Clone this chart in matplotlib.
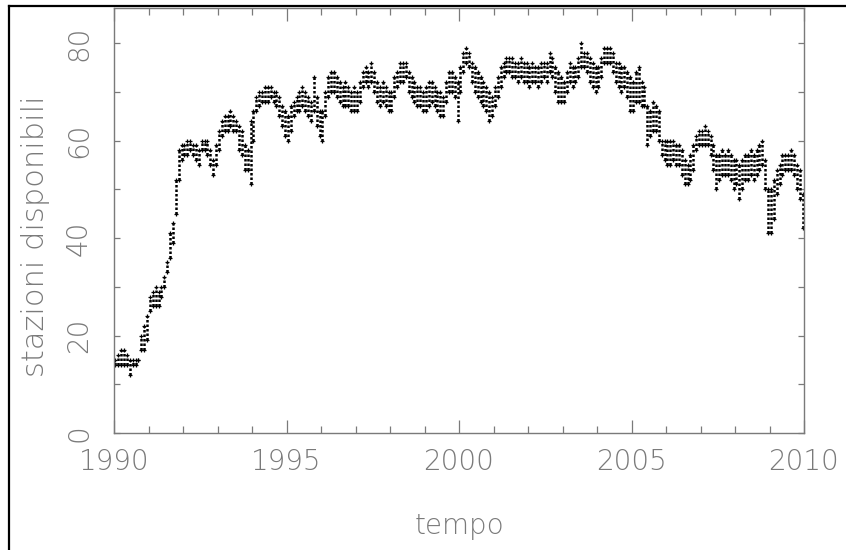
import matplotlib
matplotlib.use("Agg")
import matplotlib.pyplot as plt
from matplotlib.lines import Line2D
from matplotlib.ticker import MultipleLocator
import numpy as np

# monthly range (lowest / highest daily count) of available stations, Jan 1990 .. Dec 2009
low = [
    14, 14, 14, 14, 14, 12, 14, 14, 15, 17, 17, 19,   # 1990
    25, 26, 26, 26, 28, 30, 33, 36, 39, 45, 52, 56,   # 1991
    57, 57, 58, 57, 56, 55, 58, 58, 57, 55, 53, 55,   # 1992
    58, 61, 62, 62, 63, 62, 62, 58, 57, 54, 54, 51,   # 1993
    60, 66, 67, 68, 68, 68, 69, 68, 67, 65, 63, 61,   # 1994
    60, 62, 65, 66, 66, 67, 66, 65, 64, 66, 63, 61,   # 1995
    60, 65, 69, 70, 70, 69, 68, 67, 67, 67, 66, 66,   # 1996
    66, 68, 71, 72, 71, 72, 70, 68, 67, 68, 67, 66,   # 1997
    66, 69, 71, 72, 72, 73, 70, 69, 68, 67, 67, 66,   # 1998
    66, 67, 68, 67, 66, 65, 65, 68, 70, 70, 69, 64,   # 1999
    70, 74, 76, 75, 72, 70, 69, 68, 67, 66, 64, 65,   # 2000
    67, 69, 71, 73, 74, 74, 73, 73, 72, 73, 72, 72,   # 2001
    71, 72, 72, 71, 72, 73, 72, 74, 73, 70, 68, 68,   # 2002
    68, 70, 72, 71, 72, 73, 75, 75, 74, 72, 71, 70,   # 2003
    71, 73, 76, 76, 76, 74, 72, 71, 70, 71, 69, 66,   # 2004
    66, 68, 68, 67, 67, 59, 61, 62, 62, 60, 57, 56,   # 2005
    55, 55, 56, 55, 55, 53, 51, 51, 52, 54, 58, 59,   # 2006
    59, 59, 59, 57, 54, 50, 52, 53, 53, 53, 52, 50,   # 2007
    51, 48, 50, 52, 52, 53, 52, 53, 54, 55, 50, 41,   # 2008
    41, 44, 49, 51, 53, 54, 54, 54, 53, 50, 48, 42,   # 2009
]
high = [
    15, 16, 17, 17, 16, 15, 15, 15, 15, 20, 22, 24,
    28, 29, 30, 29, 30, 32, 35, 41, 43, 52, 58, 59,
    59, 60, 60, 59, 59, 58, 60, 60, 60, 58, 56, 59,
    62, 64, 65, 65, 66, 65, 64, 63, 62, 59, 58, 64,
    66, 69, 70, 70, 71, 71, 71, 70, 70, 69, 67, 66,
    65, 67, 68, 69, 70, 71, 70, 69, 68, 73, 69, 66,
    66, 70, 73, 74, 74, 73, 72, 71, 72, 71, 70, 71,
    70, 72, 74, 75, 74, 76, 74, 72, 71, 72, 71, 70,
    70, 73, 74, 76, 76, 76, 74, 73, 72, 71, 71, 70,
    71, 72, 72, 71, 70, 70, 69, 72, 74, 74, 73, 72,
    75, 78, 79, 78, 76, 75, 74, 73, 72, 71, 70, 69,
    71, 73, 75, 76, 77, 77, 77, 76, 76, 77, 76, 76,
    75, 76, 75, 75, 76, 76, 76, 78, 77, 75, 74, 73,
    72, 74, 76, 75, 75, 77, 80, 78, 78, 77, 76, 75,
    75, 77, 79, 79, 79, 78, 76, 76, 75, 75, 74, 73,
    72, 74, 75, 72, 71, 67, 66, 68, 67, 66, 60, 60,
    60, 60, 60, 59, 59, 58, 56, 55, 57, 59, 61, 62,
    62, 63, 62, 61, 59, 57, 57, 58, 57, 58, 57, 56,
    56, 55, 56, 57, 57, 58, 57, 58, 59, 60, 56, 50,
    50, 52, 54, 55, 57, 57, 57, 58, 57, 55, 54, 49,
]
months = 1990 + (np.arange(len(low)) + 0.5) / 12.0

grey = "#7a7a7a"
plt.rcParams["font.family"] = ["DejaVu Sans"]
txt = dict(color=grey, fontsize=20, fontweight=200)

fig = plt.figure(figsize=(8.46, 5.5), dpi=100)
ax = fig.add_axes([114 / 846, 1 - 433 / 550, 690 / 846, 425 / 550])

ax.vlines(months, low, high, colors="black", linewidth=1.8, linestyles=(0, (1, 0.8)))
ax.plot(months, low, "+", color="black", markersize=3, markeredgewidth=0.9)
ax.plot(months, high, "+", color="black", markersize=3, markeredgewidth=0.9)

ax.set_xlim(1990, 2010)
ax.set_ylim(0, 87.2)
ax.xaxis.set_major_locator(MultipleLocator(5))
ax.xaxis.set_minor_locator(MultipleLocator(1))
ax.yaxis.set_major_locator(MultipleLocator(20))
ax.yaxis.set_minor_locator(MultipleLocator(10))

for s in ax.spines.values():
    s.set_color(grey)
    s.set_linewidth(1.0)

ax.tick_params(which="both", direction="in", top=True, right=True, colors=grey, width=0.9)
ax.tick_params(axis="x", which="major", length=9.5, pad=11)
ax.tick_params(axis="x", which="minor", length=5)
ax.tick_params(axis="y", which="both", length=4, pad=15)
for lab in ax.get_xticklabels():
    lab.set(**txt)
for lab in ax.get_yticklabels():
    lab.set(rotation=90, va="center", **txt)

ax.set_xlabel("tempo", labelpad=26, **txt)
ax.set_ylabel("stazioni disponibili", color=grey, fontsize=22, fontweight=200)
ax.yaxis.set_label_coords(-0.093, 0.463)

# outer frame on the left and top
fig.add_artist(Line2D([9 / 846, 9 / 846], [0, 1 - 6 / 550], color="black", linewidth=1.6))
fig.add_artist(Line2D([9 / 846, 1], [1 - 6 / 550, 1 - 6 / 550], color="black", linewidth=1.6))

fig.savefig("out.png", dpi=100)
